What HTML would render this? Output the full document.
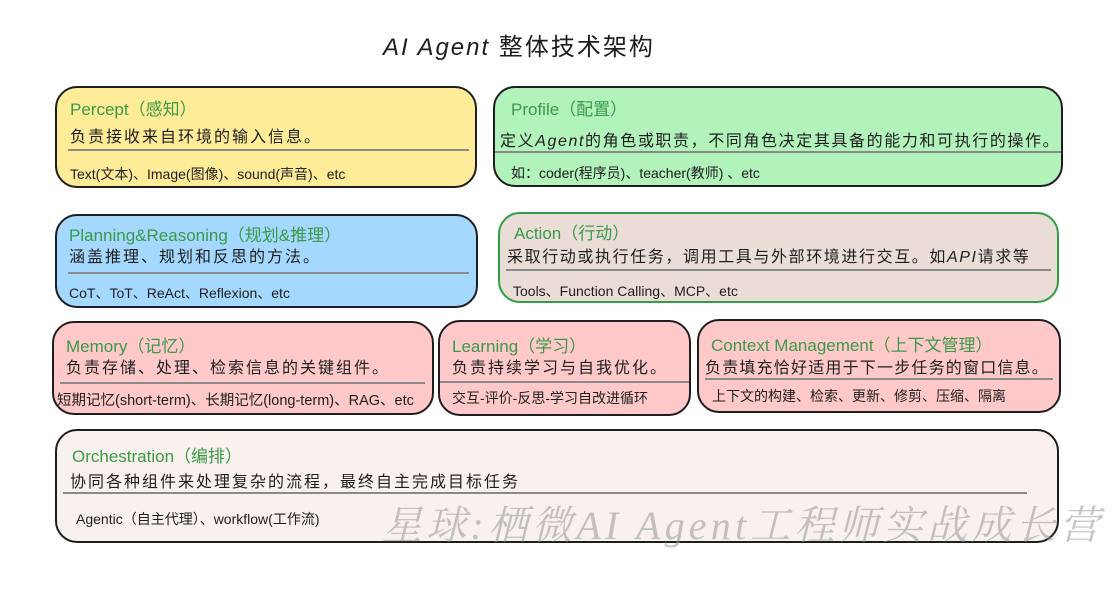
<!DOCTYPE html>
<html><head><meta charset="utf-8"><style>
body{margin:0;width:1118px;height:604px;background:#fff;position:relative;overflow:hidden;font-family:"Liberation Sans","Noto Sans CJK SC",sans-serif;}
.b{position:absolute;border:2px solid #1e1e1e;border-radius:22px;box-sizing:border-box;}
.t{position:absolute;color:#3a9a48;font-size:17px;white-space:nowrap;}
.d{position:absolute;color:#1e1e1e;font-size:16px;white-space:nowrap;letter-spacing:2px;}
.s{position:absolute;color:#1e1e1e;font-size:14px;white-space:nowrap;}
.l{position:absolute;height:2px;background:#8a8a8a;}
</style></head><body>
<div style="position:absolute;left:383px;top:27px;font-size:24px;color:#1e1e1e;white-space:nowrap;letter-spacing:2px"><i>AI Agent</i> 整体技术架构</div>

<div class="b" style="left:55px;top:86px;width:422px;height:102px;background:#ffec99"></div>
<div class="t" style="left:70px;top:95px">Percept（感知）</div>
<div class="d" style="left:70px;top:123px">负责接收来自环境的输入信息。</div>
<div class="l" style="left:68px;top:149px;width:401px"></div>
<div class="s" style="left:70px;top:164px">Text(文本)、Image(图像)、sound(声音)、etc</div>

<div class="b" style="left:493px;top:86px;width:570px;height:101px;background:#b2f2bb"></div>
<div class="t" style="left:511px;top:95px">Profile（配置）</div>
<div class="d" style="left:500px;top:127px;letter-spacing:1.6px">定义<i>Agent</i>的角色或职责，不同角色决定其具备的能力和可执行的操作。</div>
<div class="l" style="left:495px;top:151px;width:566px"></div>
<div class="s" style="left:511px;top:163px">如：coder(程序员)、teacher(教师) 、etc</div>

<div class="b" style="left:55px;top:214px;width:423px;height:94px;background:#a5d8ff"></div>
<div class="t" style="left:69px;top:221px">Planning&amp;Reasoning（规划&amp;推理）</div>
<div class="d" style="left:69px;top:243px">涵盖推理、规划和反思的方法。</div>
<div class="l" style="left:68px;top:272px;width:401px"></div>
<div class="s" style="left:69px;top:283px">CoT、ToT、ReAct、Reflexion、etc</div>

<div class="b" style="left:498px;top:212px;width:561px;height:91px;background:#eaddd7;border-color:#2f9e44"></div>
<div class="t" style="left:514px;top:219px">Action（行动）</div>
<div class="d" style="left:507px;top:243px;letter-spacing:1.6px">采取行动或执行任务，调用工具与外部环境进行交互。如<i>API</i>请求等</div>
<div class="l" style="left:506px;top:269px;width:545px"></div>
<div class="s" style="left:513px;top:281px">Tools、Function Calling、MCP、etc</div>

<div class="b" style="left:52px;top:321px;width:382px;height:94px;background:#ffc9c9"></div>
<div class="t" style="left:66px;top:332px">Memory（记忆）</div>
<div class="d" style="left:66px;top:354px">负责存储、处理、检索信息的关键组件。</div>
<div class="l" style="left:60px;top:382px;width:365px"></div>
<div class="s" style="left:57px;top:389px;font-size:14.5px">短期记忆(short-term)、长期记忆(long-term)、RAG、etc</div>

<div class="b" style="left:438px;top:320px;width:253px;height:96px;background:#ffc9c9"></div>
<div class="t" style="left:452px;top:332px">Learning（学习）</div>
<div class="d" style="left:452px;top:354px">负责持续学习与自我优化。</div>
<div class="l" style="left:440px;top:381px;width:249px"></div>
<div class="s" style="left:452px;top:388px">交互-评价-反思-学习自改进循环</div>

<div class="b" style="left:697px;top:319px;width:364px;height:94px;background:#ffc9c9"></div>
<div class="t" style="left:711px;top:331px">Context Management（上下文管理）</div>
<div class="d" style="left:705px;top:354px;letter-spacing:1.2px">负责填充恰好适用于下一步任务的窗口信息。</div>
<div class="l" style="left:705px;top:378px;width:348px"></div>
<div class="s" style="left:712px;top:386px">上下文的构建、检索、更新、修剪、压缩、隔离</div>

<div class="b" style="left:55px;top:429px;width:1004px;height:114px;background:#f8f1ee"></div>
<div class="t" style="left:72px;top:442px">Orchestration（编排）</div>
<div class="d" style="left:70px;top:468px">协同各种组件来处理复杂的流程，最终自主完成目标任务</div>
<div class="l" style="left:63px;top:492px;width:964px"></div>
<div class="s" style="left:76px;top:509px">Agentic（自主代理）、workflow(工作流)</div>
<div style="position:absolute;left:382px;top:494px;font-family:'Liberation Serif','Noto Serif CJK SC',serif;font-style:italic;font-size:40px;color:rgba(150,150,150,0.55);white-space:nowrap;letter-spacing:4.2px">星球:栖微AI Agent工程师实战成长营</div>
</body></html>
